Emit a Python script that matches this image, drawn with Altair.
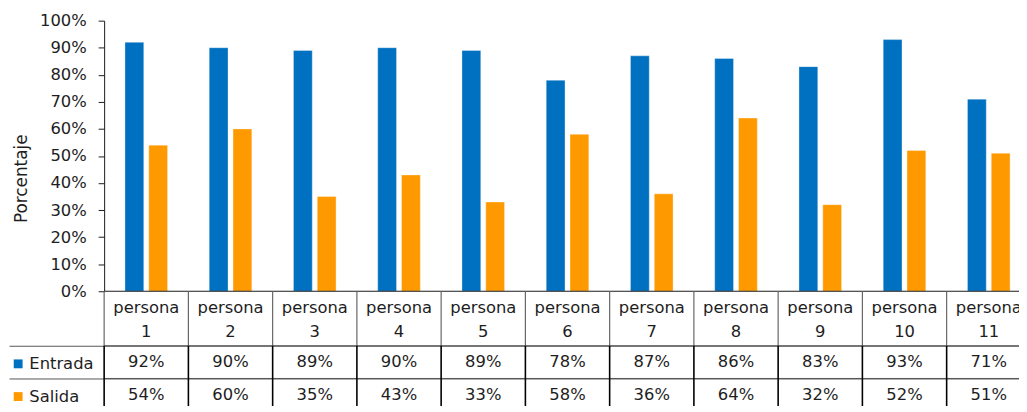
import altair as alt
import pandas as pd

# ---- data ----
categories = ["persona 1", "persona 2", "persona 3", "persona 4", "persona 5", "persona 6",
              "persona 7", "persona 8", "persona 9", "persona 10", "persona 11"]
header_labels = ["persona\n1", "persona\n2", "persona\n3", "persona\n4", "persona\n5", "persona\n6",
                 "persona\n7", "persona\n8", "persona\n9", "persona\n10", "persona\n11"]
series = ["Entrada", "Salida"]
entrada = [92, 90, 89, 90, 89, 78, 87, 86, 83, 93, 71]
salida = [54, 60, 35, 43, 33, 58, 36, 64, 32, 52, 51]
colors = ["#0070C0", "#FF9900"]
y_ticks = [0, 0.1, 0.2, 0.3, 0.4, 0.5, 0.6, 0.7, 0.8, 0.9, 1.0]

FONT = "DejaVu Sans"
FS = 16.5
TXT = "#1e1e1e"
LINE = "#1a1a1a"
HLINE = "#555555"
GLINE = "#666666"

rows = []
for i, c in enumerate(categories):
    rows.append({"cat": c, "serie": "Entrada", "val": entrada[i] / 100})
    rows.append({"cat": c, "serie": "Salida", "val": salida[i] / 100})
df = pd.DataFrame(rows)
hdr = pd.DataFrame({"cat": categories, "lab": header_labels, "row": ["h"] * len(categories)})
base = pd.DataFrame({"base": [0]})
rowlines = pd.DataFrame({"serie": series})
collines = pd.DataFrame({"cat": categories})

W = 935
xscale = alt.Scale(domain=categories, paddingInner=0, paddingOuter=0)

y_axis = alt.Axis(values=y_ticks, format=".0%", title="Porcentaje", grid=False,
                  labelOverlap=False, labelFlush=False, tickCount=11,
                  domainColor=LINE, domainWidth=1, tickColor=LINE, tickSize=6,
                  labelPadding=12, titleX=-78, titleY=159, titleAngle=270,
                  titleBaseline="alphabetic", titleAlign="center",
                  titleFontWeight="normal", titleFontSize=17, titleColor=TXT)
yscale = alt.Scale(domain=[0, 1], nice=False, zero=True)

# ---- bars ----
bars = alt.Chart(df).mark_bar(clip=True, stroke="white", strokeOpacity=0.35, strokeWidth=1).encode(
    x=alt.X("cat:N", scale=xscale, sort=categories, axis=None),
    xOffset=alt.XOffset("serie:N", sort=series,
                        scale=alt.Scale(domain=series, paddingInner=0.21, paddingOuter=0.875)),
    y=alt.Y("val:Q", scale=yscale, axis=y_axis),
    color=alt.Color("serie:N", sort=series, scale=alt.Scale(domain=series, range=colors),
                    legend=alt.Legend(orient="none", legendX=-95, legendY=338, title=None,
                                      symbolType="square", symbolSize=80, symbolStrokeWidth=0,
                                      labelFont=FONT, labelFontSize=FS, labelColor=TXT,
                                      labelOffset=3, rowPadding=16)),
)
baseline = alt.Chart(base).mark_rule(color=LINE, strokeWidth=1).encode(
    y=alt.Y("base:Q", scale=yscale, axis=y_axis))
chartA = alt.layer(bars, baseline).properties(width=W, height=273)

# ---- header row ----
header_text = alt.Chart(hdr).mark_text(clip=True, font=FONT, fontSize=FS, color=TXT,
                                       lineBreak="\n", lineHeight=25, dy=-11).encode(
    x=alt.X("cat:N", scale=xscale, sort=categories, axis=None),
    y=alt.Y("row:N", scale=alt.Scale(paddingInner=0, paddingOuter=0), axis=None),
    text="lab:N",
)
header_lines = alt.Chart(collines).mark_rule(color=GLINE, strokeWidth=1.2).encode(
    x=alt.X("cat:N", scale=xscale, sort=categories, bandPosition=0, axis=None),
)
header = alt.layer(header_text, header_lines).properties(width=W, height=55)

# ---- data table ----
yrow = alt.Scale(domain=series, paddingInner=0, paddingOuter=0)
table_text = alt.Chart(df).mark_text(clip=True, font=FONT, fontSize=FS, color=TXT).encode(
    x=alt.X("cat:N", scale=xscale, sort=categories, axis=None),
    y=alt.Y("serie:N", sort=series, scale=yrow,
            axis=alt.Axis(tickBand="extent", grid=True, gridColor=HLINE, gridOpacity=1, gridWidth=1,
                          ticks=True, tickSize=96, tickColor=HLINE, tickWidth=1,
                          labels=False, domain=False, title=None)),
    text=alt.Text("val:Q", format=".0%"),
)
table_hlines = alt.Chart(rowlines).mark_rule(color=HLINE, strokeWidth=1).encode(
    y=alt.Y("serie:N", sort=series, scale=yrow, bandPosition=0),
)
table_vlines = alt.Chart(collines).mark_rule(color="#000000", strokeWidth=1.6).encode(
    x=alt.X("cat:N", scale=xscale, sort=categories, bandPosition=0, axis=None),
)
table = alt.layer(table_text, table_hlines, table_vlines).properties(width=W, height=66)

chart = alt.vconcat(chartA, header, table, spacing=0, bounds="flush").properties(
    title=alt.TitleParams("Resultados Mindfulness", font=FONT, fontSize=21, fontWeight="bold",
                          anchor="middle", color=TXT),
    padding={"left": 0, "top": -22, "right": -13, "bottom": -8},
).configure_view(stroke=None).configure_axis(
    labelFont=FONT, labelFontSize=FS, labelColor=TXT, titleFont=FONT
)

chart.save("out.html", embed_options={"renderer": "svg", "actions": False})
